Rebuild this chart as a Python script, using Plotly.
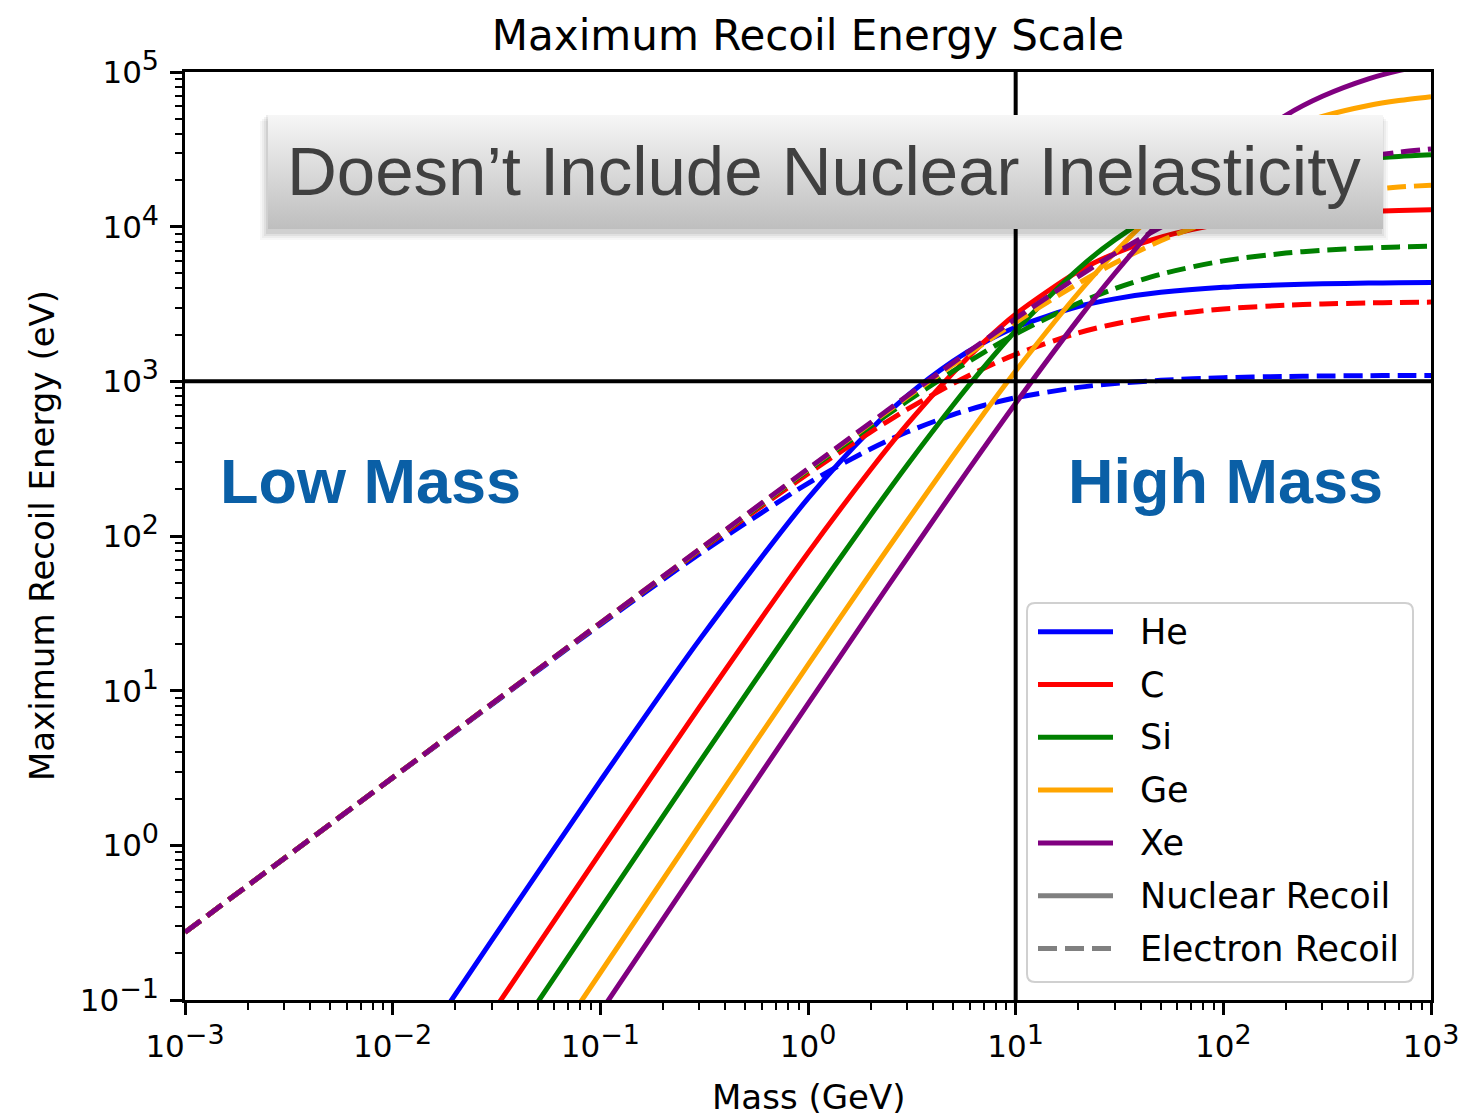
import plotly.graph_objects as go

# ---------------------------------------------------------------
# Maximum recoil energy vs. dark-matter mass (log-log)
# ---------------------------------------------------------------

# dark-matter mass grid (GeV)
nr_mass = [0.01, 0.03, 0.1, 0.3, 1, 2, 3, 5, 7, 10, 20, 30, 50, 100, 200, 300, 500, 700, 1000]
er_mass = [0.001, 0.01, 0.1, 0.3, 1, 2, 3, 5, 7, 10, 20, 30, 50, 100, 200, 300, 500, 700, 1000]

elements = ["He", "C", "Si", "Ge", "Xe"]
colors = ["blue", "red", "green", "orange", "purple"]

# nuclear recoil maximum energy (eV)
nr_he = [0.0272, 0.243, 2.61, 21.3, 175, 487, 805, 1353, 1776, 2237, 3046, 3415, 3761, 4056, 4216, 4272, 4317, 4337, 4352]
nr_c = [0.00911, 0.0817, 0.897, 7.82, 77.8, 268, 526, 1137, 1785, 2717, 5139, 6713, 8559, 10492, 11714, 12170, 12553, 12724, 12853]
nr_si = [0.00390, 0.0350, 0.387, 3.44, 36.4, 136, 287, 703, 1225, 2122, 5325, 8211, 12621, 18763, 23668, 25737, 27595, 28453, 29123]
nr_ge = [0.00151, 0.0136, 0.150, 1.35, 14.7, 57.2, 125, 330, 615, 1166, 3711, 6802, 13233, 26711, 42839, 51595, 60689, 65339, 69187]
nr_xe = [0.000835, 0.00751, 0.0834, 0.748, 8.22, 32.4, 71.8, 194, 369, 721, 2515, 4978, 10945, 26899, 52443, 69622, 90266, 102036, 112435]

# electron recoil maximum energy (eV)
er_he = [0.274, 2.73, 26.7, 76.5, 219, 365, 470, 609, 698, 783, 914, 968, 1015, 1055, 1075, 1082, 1088, 1091, 1092]
er_c = [0.274, 2.74, 27.2, 80.2, 253, 470, 658, 967, 1212, 1495, 2056, 2350, 2654, 2938, 3105, 3164, 3214, 3236, 3252]
er_si = [0.274, 2.74, 27.3, 81.3, 265, 512, 743, 1163, 1535, 2021, 3201, 3975, 4928, 6008, 6748, 7037, 7286, 7399, 7485]
er_ge = [0.274, 2.74, 27.4, 81.9, 270, 533, 789, 1282, 1749, 2408, 4297, 5817, 8114, 11528, 14599, 16022, 17376, 18030, 18553]
er_xe = [0.274, 2.74, 27.4, 82.0, 272, 540, 804, 1320, 1821, 2546, 4756, 6691, 9922, 15553, 21717, 25023, 28492, 30293, 31799]

nr_values = [nr_he, nr_c, nr_si, nr_ge, nr_xe]
er_values = [er_he, er_c, er_si, er_ge, er_xe]

# reference divisions
mass_split = 10      # GeV
energy_split = 1000  # eV

# decade ticks
x_decades = [-3, -2, -1, 0, 1, 2, 3]
y_decades = [-1, 0, 1, 2, 3, 4, 5]

legend_labels = elements + ["Nuclear Recoil", "Electron Recoil"]

# ---------------------------------------------------------------
W, H = 1460, 1117
L, R, T, B = 185, 29, 72, 117
PW, PH = W - L - R, H - T - B


def px_x(px):
    return (px - L) / PW


def px_y(py):
    return (H - B - py) / PH


def power_label(e):
    sign = "\u2212" if e < 0 else ""
    return f"10<sup><span style='font-size:27px'>{sign}{abs(e)}</span></sup>"


LW = 5
DASH = "19px,8px"
TICK_FONT = dict(family="DejaVu Sans", size=31, color="black")

fig = go.Figure()

for name, col, nr, er in zip(elements, colors, nr_values, er_values):
    fig.add_trace(go.Scatter(
        x=nr_mass, y=nr, mode="lines", name=name,
        line=dict(color=col, width=LW, shape="spline", smoothing=0.8),
        showlegend=False, hoverinfo="skip"))
    fig.add_trace(go.Scatter(
        x=er_mass, y=er, mode="lines", name=name + " (electron)",
        line=dict(color=col, width=LW, dash=DASH, shape="spline", smoothing=0.8),
        showlegend=False, hoverinfo="skip"))

# low / high mass and energy dividing lines
fig.add_trace(go.Scatter(x=[mass_split, mass_split], y=[0.1, 1e5], mode="lines",
                         line=dict(color="black", width=4), showlegend=False, hoverinfo="skip"))
fig.add_trace(go.Scatter(x=[1e-3, 1e3], y=[energy_split, energy_split], mode="lines",
                         line=dict(color="black", width=4), showlegend=False, hoverinfo="skip"))

# ---- banner box (drawn on an overlay with linear 0..1 axes) ----
bx0, bx1 = px_x(268), px_x(1383)
by_top, by_bot = px_y(115), px_y(229)
sx, sy = 1 / PW, 1 / PH
for k, a in [(8, 0.03), (6, 0.04), (4, 0.05), (2, 0.07)]:
    fig.add_trace(go.Scatter(
        x=[bx0 - k * sx, bx1 + (k - 3) * sx, bx1 + (k - 3) * sx, bx0 - k * sx, bx0 - k * sx],
        y=[by_bot - (k + 3) * sy, by_bot - (k + 3) * sy, by_top - (k - 2) * sy, by_top - (k - 2) * sy, by_bot - (k + 3) * sy],
        xaxis="x2", yaxis="y2", mode="lines", fill="toself",
        fillcolor=f"rgba(0,0,0,{a})", line=dict(width=0, color="rgba(0,0,0,0)"),
        showlegend=False, hoverinfo="skip"))
fig.add_trace(go.Scatter(
    x=[bx0, bx1, bx1, bx0, bx0], y=[by_bot, by_bot, by_top, by_top, by_bot],
    xaxis="x2", yaxis="y2", mode="lines", fill="toself",
    fillgradient=dict(type="vertical", colorscale=[[0, "#bebebe"], [0.5, "#dadada"], [1, "#f6f6f6"]],
                      start=by_bot, stop=by_top),
    line=dict(width=0, color="rgba(0,0,0,0)"),
    showlegend=False, hoverinfo="skip"))

annotations = [
    dict(text="Doesn\u2019t Include Nuclear Inelasticity", x=px_x(824), y=px_y(172),
         xref="paper", yref="paper", showarrow=False, xanchor="center", yanchor="middle",
         font=dict(family="Liberation Sans", size=69, color="#404040")),
    dict(text="Low Mass", x=px_x(370), y=px_y(481), xref="paper", yref="paper",
         showarrow=False, xanchor="center", yanchor="middle",
         font=dict(family="Liberation Sans", size=63, color="#0a5fa6", weight="bold")),
    dict(text="High Mass", x=px_x(1225), y=px_y(481), xref="paper", yref="paper",
         showarrow=False, xanchor="center", yanchor="middle",
         font=dict(family="Liberation Sans", size=63, color="#0a5fa6", weight="bold")),
    dict(text="Maximum Recoil Energy (eV)", x=px_x(42), y=0.5, xref="paper", yref="paper",
         showarrow=False, textangle=-90, xanchor="center", yanchor="middle",
         font=dict(family="DejaVu Sans", size=34, color="black")),
    dict(text="Mass (GeV)", x=0.5, y=px_y(1097), xref="paper", yref="paper",
         showarrow=False, xanchor="center", yanchor="middle",
         font=dict(family="DejaVu Sans", size=34, color="black")),
]

# ---- legend ----
shapes = []
lx0, lx1, ly0, ly1 = 1027, 1413, 603, 982
rr = 8
path = (f"M {px_x(lx0 + rr)},{px_y(ly0)} L {px_x(lx1 - rr)},{px_y(ly0)} "
        f"Q {px_x(lx1)},{px_y(ly0)} {px_x(lx1)},{px_y(ly0 + rr)} "
        f"L {px_x(lx1)},{px_y(ly1 - rr)} Q {px_x(lx1)},{px_y(ly1)} {px_x(lx1 - rr)},{px_y(ly1)} "
        f"L {px_x(lx0 + rr)},{px_y(ly1)} Q {px_x(lx0)},{px_y(ly1)} {px_x(lx0)},{px_y(ly1 - rr)} "
        f"L {px_x(lx0)},{px_y(ly0 + rr)} Q {px_x(lx0)},{px_y(ly0)} {px_x(lx0 + rr)},{px_y(ly0)} Z")
shapes.append(dict(type="path", path=path, xref="paper", yref="paper",
                   fillcolor="rgba(255,255,255,0.8)", line=dict(color="#d0d0d0", width=2),
                   layer="above"))
legend_colors = colors + ["gray", "gray"]
legend_dash = ["solid"] * 6 + [DASH]
for i, (lab, col, dsh) in enumerate(zip(legend_labels, legend_colors, legend_dash)):
    yy = 631.7 + i * 52.8
    shapes.append(dict(type="line", xref="paper", yref="paper",
                       x0=px_x(1038), x1=px_x(1113), y0=px_y(yy), y1=px_y(yy),
                       line=dict(color=col, width=LW, dash=dsh), layer="above"))
    annotations.append(dict(text=lab, x=px_x(1138), y=px_y(yy), xref="paper", yref="paper",
                            showarrow=False, xanchor="left", yanchor="middle",
                            font=dict(family="DejaVu Sans", size=35, color="black")))

axis_common = dict(
    type="log", showline=True, linecolor="black", linewidth=2.5, mirror=True,
    ticks="outside", ticklen=12, tickwidth=2.5, tickcolor="black",
    tickfont=TICK_FONT, showgrid=False, zeroline=False, automargin=False,
    ticklabelstandoff=5,
    minor=dict(ticks="outside", ticklen=7, tickwidth=2, tickcolor="black", dtick="D1", showgrid=False),
)

fig.update_layout(
    width=W, height=H,
    margin=dict(l=L, r=R, t=T, b=B, autoexpand=False),
    paper_bgcolor="white", plot_bgcolor="white",
    showlegend=False,
    title=dict(text="Maximum Recoil Energy Scale", x=0.5, xref="paper", xanchor="center",
               y=1 - 35 / H, yref="container", yanchor="middle",
               font=dict(family="DejaVu Sans", size=42, color="black")),
    xaxis=dict(range=[-3, 3], tickmode="array",
               tickvals=[10 ** e for e in x_decades],
               ticktext=[power_label(e) for e in x_decades], **axis_common),
    yaxis=dict(range=[-1, 5], tickmode="array",
               tickvals=[10 ** e for e in y_decades],
               ticktext=[power_label(e) for e in y_decades], **axis_common),
    xaxis2=dict(overlaying="x", range=[0, 1], visible=False, anchor="y2"),
    yaxis2=dict(overlaying="y", range=[0, 1], visible=False, anchor="x2"),
    annotations=annotations,
    shapes=shapes,
)

fig.write_html("out.html")
